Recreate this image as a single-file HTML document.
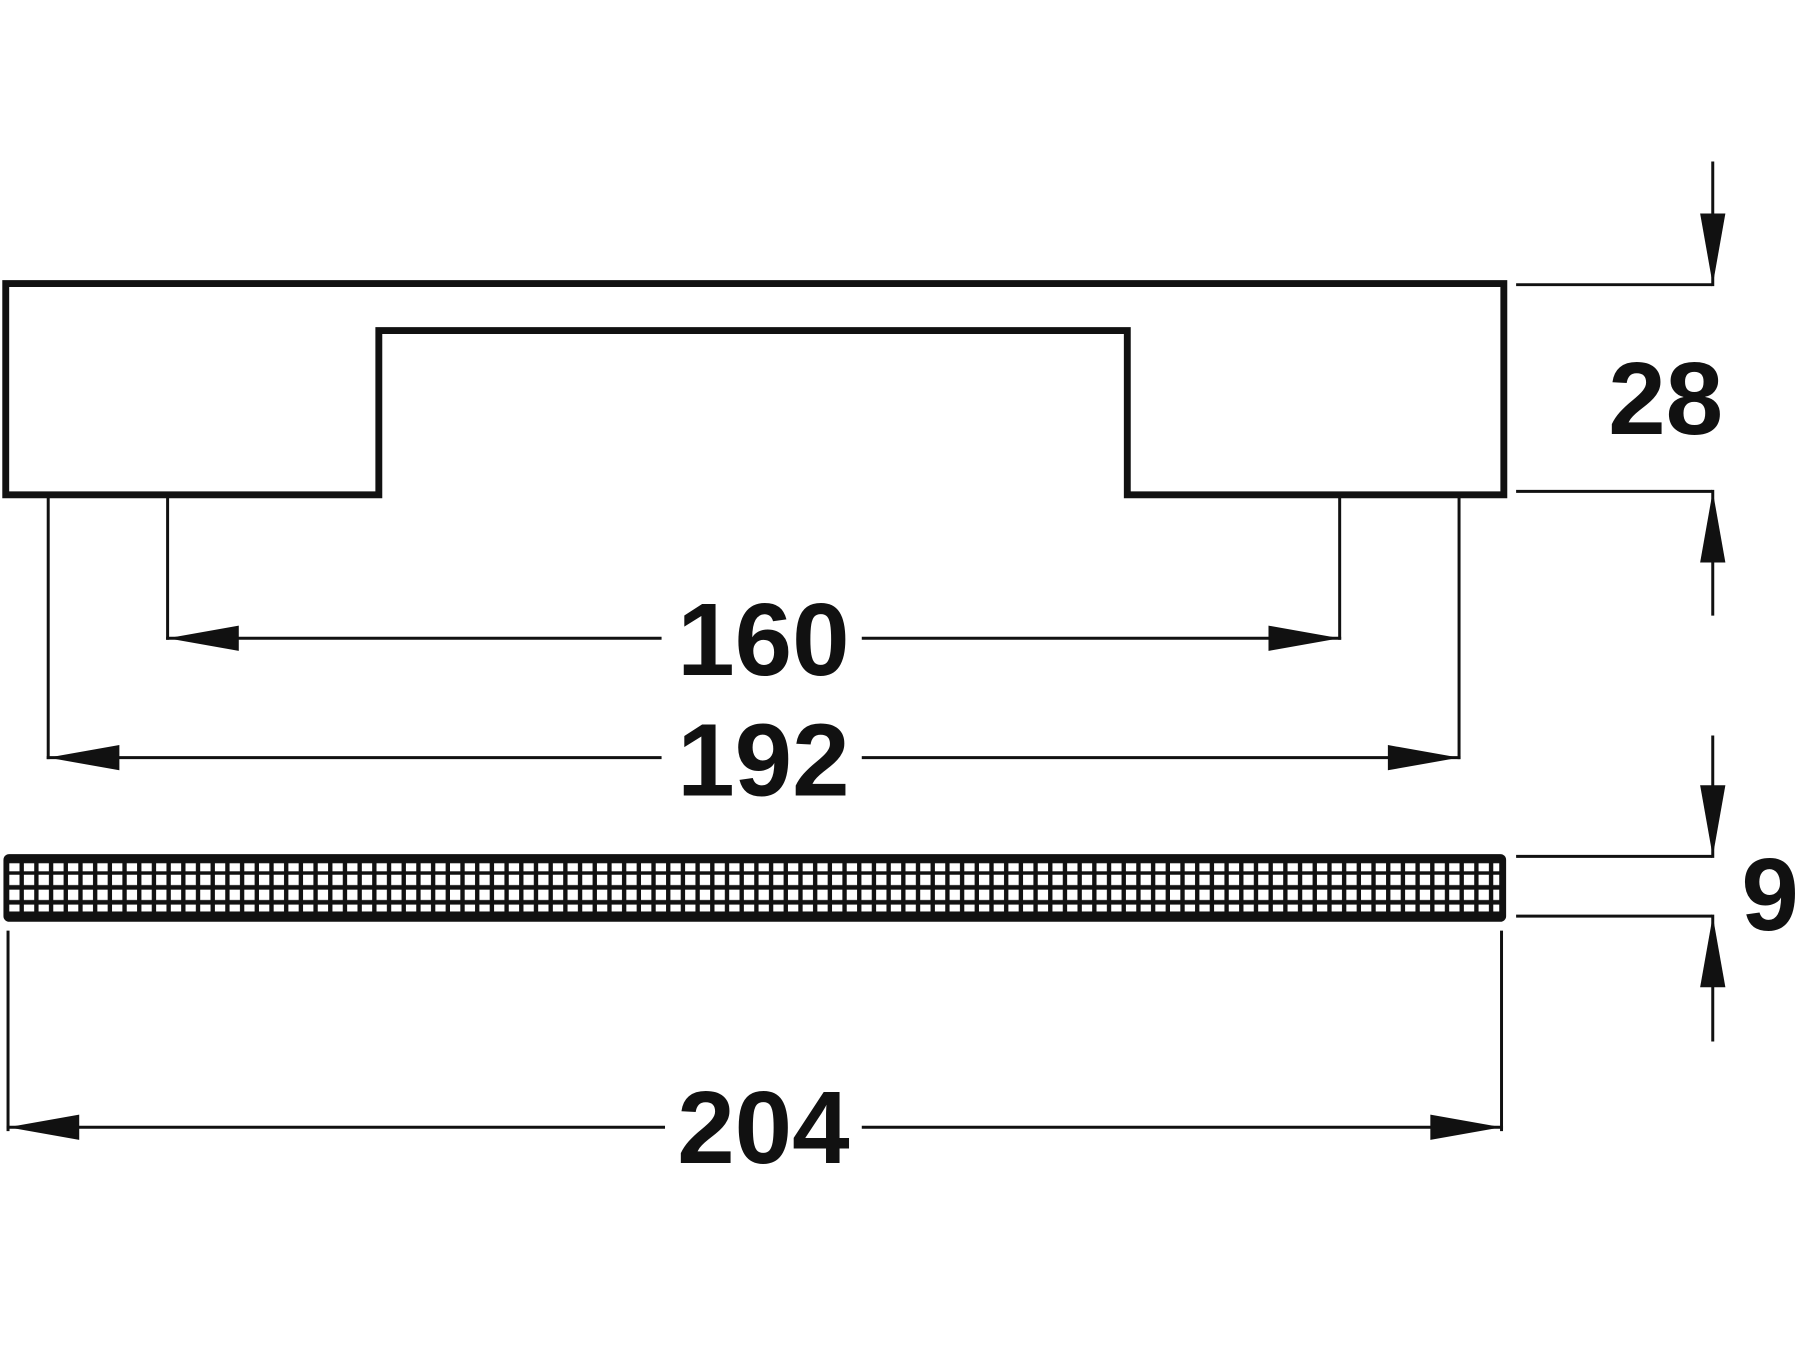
<!DOCTYPE html>
<html><head><meta charset="utf-8"><style>
html,body{margin:0;padding:0;background:#fff;}
svg{display:block;}
text{font-family:"Liberation Sans",sans-serif;font-weight:bold;fill:#111;font-size:90px;}
</style></head><body>
<svg width="1800" height="1350" viewBox="0 0 1568 1176" preserveAspectRatio="none" xmlns="http://www.w3.org/2000/svg">
<defs>
<pattern id="grid" x="8" y="749" width="12.8" height="200" patternUnits="userSpaceOnUse">
<rect x="0" y="3" width="9" height="7" fill="#fff"/>
<rect x="0" y="13" width="9" height="9" fill="#fff"/>
<rect x="0" y="26" width="9" height="9" fill="#fff"/>
<rect x="0" y="39" width="9" height="6" fill="#fff"/>
</pattern>
</defs>
<g stroke="#111" fill="none" stroke-linecap="square">
<path d="M5 431 L5 247 L1310 247 L1310 431 L982 431 L982 288 L330 288 L330 431 Z" stroke-width="6" stroke-linejoin="miter"/>
<g stroke-width="2.6">
<line x1="42" y1="433" x2="42" y2="660"/>
<line x1="146" y1="433" x2="146" y2="556"/>
<line x1="1167" y1="433" x2="1167" y2="556"/>
<line x1="1271" y1="433" x2="1271" y2="660"/>
<line x1="7" y1="812" x2="7" y2="984"/>
<line x1="1308" y1="812" x2="1308" y2="984"/>
<line x1="146" y1="556" x2="575" y2="556"/>
<line x1="752" y1="556" x2="1167" y2="556"/>
<line x1="42" y1="660" x2="575" y2="660"/>
<line x1="752" y1="660" x2="1271" y2="660"/>
<line x1="7" y1="982" x2="578" y2="982"/>
<line x1="752" y1="982" x2="1308" y2="982"/>
<line x1="1322" y1="248" x2="1490" y2="248"/>
<line x1="1322" y1="428" x2="1490" y2="428"/>
<line x1="1492" y1="142" x2="1492" y2="248"/>
<line x1="1492" y1="428" x2="1492" y2="535"/>
<line x1="1322" y1="746" x2="1490" y2="746"/>
<line x1="1322" y1="798" x2="1490" y2="798"/>
<line x1="1492" y1="642" x2="1492" y2="746"/>
<line x1="1492" y1="798" x2="1492" y2="906"/>
</g>
</g>
<g fill="#111">
<polygon points="146,556 208,545 208,567"/>
<polygon points="1167,556 1105,545 1105,567"/>
<polygon points="42,660 104,649 104,671"/>
<polygon points="1271,660 1209,649 1209,671"/>
<polygon points="7,982 69,971 69,993"/>
<polygon points="1308,982 1246,971 1246,993"/>
<polygon points="1492,248 1481,186 1503,186"/>
<polygon points="1492,428 1481,490 1503,490"/>
<polygon points="1492,746 1481,684 1503,684"/>
<polygon points="1492,798 1481,860 1503,860"/>
<rect x="3" y="744" width="1309" height="59" rx="5"/>
<rect x="8" y="749" width="1298" height="49" fill="url(#grid)"/>
</g>
<text x="1451" y="378" text-anchor="middle">28</text>
<text x="665" y="588" text-anchor="middle">160</text>
<text x="665" y="693" text-anchor="middle">192</text>
<text x="665" y="1013" text-anchor="middle">204</text>
<text x="1542" y="810" text-anchor="middle">9</text>
</svg>
</body></html>
